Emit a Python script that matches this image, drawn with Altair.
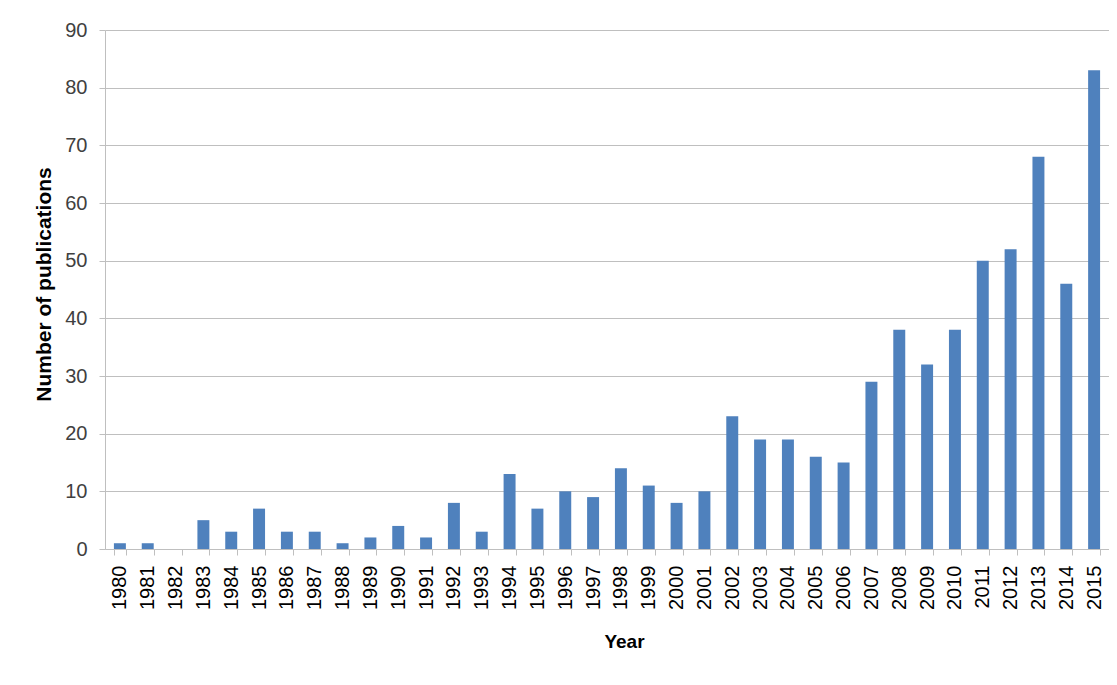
import altair as alt
import pandas as pd

years = [str(y) for y in range(1980, 2016)]
counts = [1, 1, 0, 5, 3, 7, 3, 3, 1, 2, 4, 2, 8, 3, 13, 7, 10, 9, 14, 11, 8, 10,
          23, 19, 19, 16, 15, 29, 38, 32, 38, 50, 52, 68, 46, 83]

df = pd.DataFrame({"Year": years, "Count": counts})

FONT = "Liberation Sans"

chart = alt.Chart(df).mark_bar(color="#4F81BD").encode(
    x=alt.X("Year:N", sort=years,
            scale=alt.Scale(paddingInner=0.57, paddingOuter=0.32),
            axis=alt.Axis(title="Year", labelAngle=-90, labelAlign="right",
                          labelBaseline="middle", tickBand="extent",
                          tickSize=6, labelPadding=10,
                          titleX=519, titleY=83, titleAlign="center", titleBaseline="top",
                          labelFontSize=20, titleFontSize=19, titleFontWeight="bold",
                          labelColor="#000000", titleColor="#000000",
                          domainColor="#BFBFBF", tickColor="#BFBFBF",
                          labelFont=FONT, titleFont=FONT, grid=False)),
    y=alt.Y("Count:Q", scale=alt.Scale(domain=[0, 90], nice=False),
            axis=alt.Axis(title="Number of publications", values=list(range(0, 91, 10)),
                          tickSize=6, labelPadding=12, titlePadding=10,
                          titleY=254,
                          labelFontSize=20, titleFontSize=21, titleFontWeight="bold",
                          labelColor="#404040", titleColor="#000000",
                          domainColor="#BFBFBF", tickColor="#BFBFBF",
                          gridColor="#BFBFBF", gridWidth=1.2,
                          labelFont=FONT, titleFont=FONT))
).properties(
    width=1004, height=519,
    autosize=alt.AutoSizeParams(type="none"),
    padding={"left": 97, "top": 22, "right": 0, "bottom": 126}
).configure_view(stroke=None)

chart.save("out.html", embed_options={"renderer": "svg", "actions": False})
